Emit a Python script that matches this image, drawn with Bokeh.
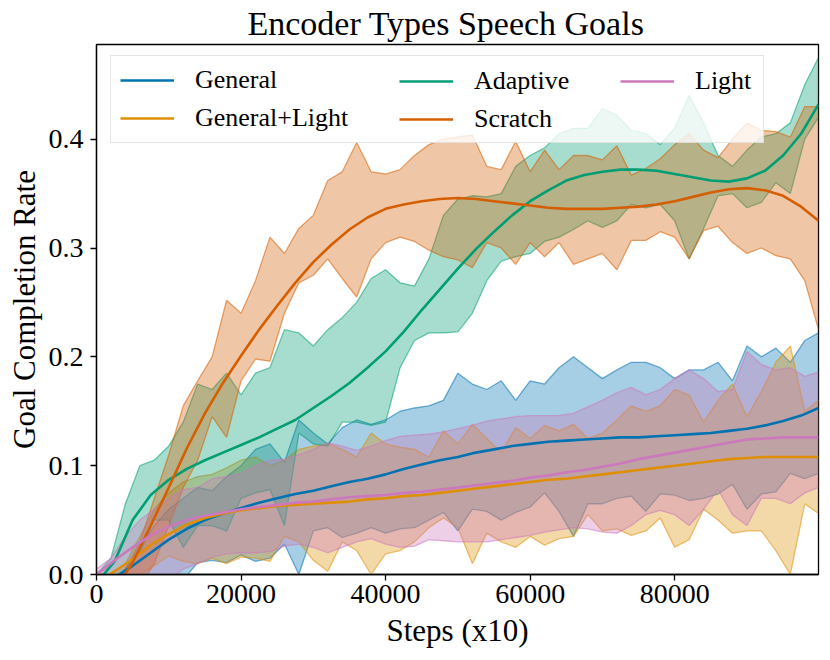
from bokeh.embed import file_html
from bokeh.models import (FixedTicker, Legend, LegendItem, PrintfTickFormatter,
                          Range1d)
from bokeh.plotting import figure
from bokeh.resources import INLINE

FONT = "Liberation Serif"

# --- data -----------------------------------------------------------------
steps = [0, 2000, 4000, 6000, 8000, 10000, 12000, 14000, 16000, 18000,
         20000, 22000, 24000, 26000, 28000, 30000, 32000, 34000, 36000, 38000,
         40000, 42000, 44000, 46000, 48000, 50000, 52000, 54000, 56000, 58000,
         60000, 62000, 64000, 66000, 68000, 70000, 72000, 74000, 76000, 78000,
         80000, 82000, 84000, 86000, 88000, 90000, 92000, 94000, 96000, 98000,
         99900]

mean_steps = [0, 2500, 5000, 7500, 10000, 12500, 15000, 17500, 20000, 22500,
              25000, 27500, 30000, 32500, 35000, 37500, 40000, 42500, 45000, 47500,
              50000, 52500, 55000, 57500, 60000, 62500, 65000, 67500, 70000, 72500,
              75000, 77500, 80000, 82500, 85000, 87500, 90000, 92500, 95000, 97500,
              99900]

general_mean = [-0.015, -0.003, 0.008, 0.02, 0.032, 0.042, 0.05, 0.056, 0.061, 0.066,
                0.07, 0.074, 0.077, 0.081, 0.085, 0.088, 0.092, 0.097, 0.101, 0.105,
                0.108, 0.112, 0.115, 0.118, 0.12, 0.122, 0.123, 0.124, 0.125, 0.126,
                0.126, 0.127, 0.128, 0.129, 0.13, 0.132, 0.134, 0.137, 0.141, 0.146,
                0.153]
general_upper = [-0.01, -0.005, 0.005, 0.025, 0.045, 0.06, 0.07, 0.08, 0.077, 0.09,
                 0.1, 0.115, 0.12, 0.103, 0.142, 0.13, 0.12, 0.135, 0.142, 0.138,
                 0.142, 0.15, 0.153, 0.155, 0.16, 0.185, 0.175, 0.17, 0.178, 0.16,
                 0.178, 0.175, 0.19, 0.2, 0.19, 0.18, 0.188, 0.195, 0.195, 0.19,
                 0.18, 0.188, 0.188, 0.195, 0.178, 0.21, 0.2, 0.208, 0.195, 0.215,
                 0.222]
general_lower = [-0.01, -0.02, -0.03, -0.035, -0.03, -0.02, -0.005, 0.011, 0.013, 0.011,
                 0.018, 0.012, 0.015, 0.028, 0.0, 0.04, 0.043, 0.034, 0.038, 0.043,
                 0.038, 0.042, 0.043, 0.05, 0.057, 0.04, 0.06, 0.058, 0.05, 0.057,
                 0.062, 0.075, 0.058, 0.035, 0.065, 0.065, 0.07, 0.072, 0.058, 0.074,
                 0.073, 0.068, 0.07, 0.074, 0.083, 0.06, 0.074, 0.076, 0.093, 0.088,
                 0.093]

gl_mean = [-0.008, 0.003, 0.014, 0.027, 0.037, 0.046, 0.052, 0.056, 0.059, 0.061,
           0.063, 0.064, 0.065, 0.066, 0.067, 0.069, 0.07, 0.072, 0.073, 0.075,
           0.077, 0.079, 0.081, 0.083, 0.085, 0.087, 0.088, 0.09, 0.092, 0.094,
           0.096, 0.098, 0.1, 0.102, 0.104, 0.106, 0.107, 0.108, 0.108, 0.108,
           0.108]
gl_upper = [-0.005, 0.0, 0.01, 0.035, 0.06, 0.075, 0.085, 0.09, 0.092, 0.098,
            0.105, 0.108, 0.1, 0.105, 0.115, 0.118, 0.12, 0.115, 0.108, 0.13,
            0.12, 0.117, 0.115, 0.108, 0.132, 0.12, 0.138, 0.125, 0.112, 0.135,
            0.125, 0.137, 0.132, 0.138, 0.125, 0.13, 0.142, 0.155, 0.15, 0.155,
            0.17, 0.165, 0.14, 0.16, 0.175, 0.145, 0.168, 0.195, 0.21, 0.15,
            0.16]
gl_lower = [-0.005, -0.01, -0.01, 0.0, 0.008, 0.017, 0.012, 0.01, 0.015, 0.01,
            0.016, 0.015, 0.012, 0.035, 0.03, 0.013, 0.003, 0.03, 0.022, 0.0,
            0.019, 0.022, 0.03, 0.043, 0.052, 0.043, 0.01, 0.038, 0.03, 0.025,
            0.035, 0.027, 0.033, 0.035, 0.055, 0.04, 0.042, 0.036, 0.04, 0.052,
            0.025, 0.032, 0.06, 0.05, 0.038, 0.04, 0.04, 0.022, 0.0, 0.065,
            0.056]

adaptive_mean = [-0.008, 0.012, 0.05, 0.073, 0.087, 0.097, 0.105, 0.112, 0.119, 0.126,
                 0.134, 0.142, 0.153, 0.164, 0.176, 0.19, 0.205, 0.223, 0.243, 0.262,
                 0.281, 0.299, 0.315, 0.33, 0.343, 0.353, 0.362, 0.367, 0.37, 0.372,
                 0.372, 0.371, 0.368, 0.365, 0.362, 0.361, 0.364, 0.371, 0.385, 0.405,
                 0.432]
adaptive_upper = [0.0, 0.015, 0.065, 0.1, 0.105, 0.118, 0.14, 0.175, 0.17, 0.185,
                  0.165, 0.185, 0.19, 0.225, 0.222, 0.21, 0.225, 0.236, 0.25, 0.272,
                  0.28, 0.268, 0.265, 0.29, 0.33, 0.345, 0.348, 0.347, 0.35, 0.375,
                  0.385, 0.392, 0.405, 0.41, 0.41, 0.428, 0.422, 0.408, 0.405, 0.395,
                  0.41, 0.44, 0.415, 0.385, 0.375, 0.39, 0.402, 0.405, 0.415, 0.45,
                  0.475]
adaptive_lower = [-0.01, -0.005, 0.005, 0.02, 0.05, 0.05, 0.025, 0.045, 0.045, 0.04,
                  0.07, 0.075, 0.078, 0.045, 0.13, 0.12, 0.118, 0.14, 0.14, 0.137,
                  0.14, 0.19, 0.215, 0.222, 0.222, 0.223, 0.24, 0.27, 0.288, 0.292,
                  0.295, 0.306, 0.31, 0.317, 0.325, 0.319, 0.325, 0.34, 0.337, 0.34,
                  0.325, 0.29, 0.318, 0.348, 0.35, 0.337, 0.342, 0.36, 0.35, 0.4,
                  0.42]

scratch_mean = [-0.07, -0.015, 0.011, 0.045, 0.08, 0.116, 0.148, 0.176, 0.201, 0.225,
                0.247, 0.268, 0.287, 0.303, 0.317, 0.328, 0.336, 0.34, 0.343, 0.345,
                0.346, 0.345, 0.343, 0.341, 0.339, 0.337, 0.336, 0.336, 0.336, 0.337,
                0.338, 0.34, 0.343, 0.347, 0.351, 0.354, 0.355, 0.353, 0.348, 0.338,
                0.325]
scratch_upper = [-0.02, -0.01, 0.005, 0.03, 0.07, 0.11, 0.155, 0.178, 0.2, 0.252,
                 0.24, 0.27, 0.31, 0.295, 0.318, 0.33, 0.362, 0.37, 0.397, 0.37,
                 0.368, 0.372, 0.385, 0.395, 0.4, 0.402, 0.404, 0.375, 0.372, 0.398,
                 0.37, 0.39, 0.372, 0.385, 0.385, 0.381, 0.394, 0.367, 0.373, 0.382,
                 0.395, 0.405, 0.39, 0.383, 0.4, 0.415, 0.408, 0.407, 0.402, 0.43,
                 0.43]
scratch_lower = [-0.03, -0.03, -0.02, -0.01, 0.01, 0.045, 0.08, 0.105, 0.145, 0.126,
                 0.178, 0.198, 0.196, 0.24, 0.268, 0.275, 0.29, 0.272, 0.255, 0.29,
                 0.305, 0.31, 0.306, 0.298, 0.292, 0.289, 0.282, 0.305, 0.3, 0.285,
                 0.305, 0.292, 0.305, 0.285, 0.29, 0.295, 0.28, 0.307, 0.307, 0.315,
                 0.31, 0.29, 0.316, 0.32, 0.305, 0.295, 0.3, 0.293, 0.29, 0.27,
                 0.225]

light_mean = [0.0, 0.013, 0.025, 0.036, 0.044, 0.05, 0.054, 0.057, 0.06, 0.062,
              0.064, 0.066, 0.067, 0.069, 0.071, 0.072, 0.073, 0.075, 0.076, 0.078,
              0.08, 0.082, 0.084, 0.086, 0.089, 0.091, 0.094, 0.096, 0.099, 0.102,
              0.106, 0.109, 0.112, 0.115, 0.118, 0.121, 0.124, 0.125, 0.126, 0.126,
              0.126]
light_upper = [0.005, 0.015, 0.035, 0.05, 0.06, 0.07, 0.078, 0.08, 0.088, 0.09,
               0.093, 0.1, 0.105, 0.106, 0.11, 0.115, 0.121, 0.118, 0.114, 0.118,
               0.123, 0.127, 0.128, 0.129, 0.131, 0.134, 0.137, 0.141, 0.143, 0.145,
               0.146, 0.146, 0.146, 0.148, 0.154, 0.16, 0.167, 0.172, 0.165, 0.17,
               0.18, 0.188, 0.18, 0.168, 0.17, 0.205, 0.193, 0.188, 0.19, 0.182,
               0.186]
light_lower = [0.0, -0.005, -0.01, -0.01, -0.01, -0.005, 0.005, 0.01, 0.016, 0.019,
               0.02, 0.02, 0.021, 0.026, 0.028, 0.025, 0.02, 0.025, 0.03, 0.033,
               0.028, 0.025, 0.026, 0.032, 0.031, 0.03, 0.03, 0.03, 0.032, 0.034,
               0.036, 0.039, 0.041, 0.043, 0.042, 0.039, 0.038, 0.045, 0.055, 0.059,
               0.055, 0.045, 0.06, 0.078, 0.055, 0.045, 0.07, 0.07, 0.065, 0.075,
               0.08]

labels = ["General", "General+Light", "Adaptive", "Scratch", "Light"]
colors = ["#0173B2", "#DE8F05", "#029E73", "#D55E00", "#CC78BC"]
x_ticks = [0, 20000, 40000, 60000, 80000]
y_ticks = [0.0, 0.1, 0.2, 0.3, 0.4]

series = [
    (general_mean, general_upper, general_lower),
    (gl_mean, gl_upper, gl_lower),
    (adaptive_mean, adaptive_upper, adaptive_lower),
    (scratch_mean, scratch_upper, scratch_lower),
    (light_mean, light_upper, light_lower),
]

# --- figure ---------------------------------------------------------------
p = figure(width=824, height=652,
           x_range=Range1d(0, 99900), y_range=Range1d(0, 0.487),
           output_backend="svg", toolbar_location=None,
           min_border_left=96, min_border_right=6,
           min_border_top=44, min_border_bottom=78,
           background_fill_color="white", border_fill_color="white")

p.title.text = "Encoder Types Speech Goals"
p.title.align = "left"
p.title.offset = 151
p.title.text_font = FONT
p.title.text_font_size = "34px"
p.title.text_font_style = "normal"
p.title.text_color = "black"
p.title.text_line_height = 1.0
p.title.standoff = 5

p.grid.visible = False
p.outline_line_color = "black"
p.outline_line_width = 1.3
p.outline_line_alpha = 1

for ax in (p.xaxis, p.yaxis):
    ax.axis_line_color = "black"
    ax.axis_line_width = 1.3
    ax.major_tick_line_color = "black"
    ax.major_tick_line_width = 1.3
    ax.major_tick_in = 0
    ax.major_tick_out = 6
    ax.minor_tick_line_color = None
    ax.major_label_text_font = FONT
    ax.major_label_text_font_size = "28px"
    ax.major_label_text_color = "black"
    ax.major_label_text_line_height = 1.0
    ax.axis_label_text_font = FONT
    ax.axis_label_text_font_size = "31px"
    ax.axis_label_text_font_style = "normal"
    ax.axis_label_text_color = "black"
    ax.axis_label_text_line_height = 1.0

p.xaxis.ticker = FixedTicker(ticks=x_ticks)
p.xaxis.formatter.use_scientific = False
p.xaxis.axis_label = "Steps (x10)"
p.xaxis.major_label_standoff = 4
p.xaxis.axis_label_standoff = 7

p.yaxis.ticker = FixedTicker(ticks=y_ticks)
p.yaxis.formatter = PrintfTickFormatter(format="%.1f")
p.yaxis.axis_label = "Goal Completion Rate"
p.yaxis.major_label_standoff = 7
p.yaxis.axis_label_standoff = 4

# shaded bands first, then the mean curves on top
for (mean, upper, lower), color in zip(series, colors):
    p.varea(x=steps, y1=lower, y2=upper, fill_color=color, fill_alpha=0.35)
    p.line(steps, upper, line_color=color, line_alpha=0.55, line_width=1.3)
    p.line(steps, lower, line_color=color, line_alpha=0.55, line_width=1.3)

mean_lines = []
for (mean, upper, lower), color in zip(series, colors):
    mean_lines.append(p.line(mean_steps, mean, line_color=color, line_width=2.6))


# legend: three columns, the first one carries the shared box
def make_legend(idx, loc, boxed):
    leg = Legend(
        items=[LegendItem(label=labels[i], renderers=[mean_lines[i]]) for i in idx],
        location=loc, orientation="vertical", margin=0, padding=9, spacing=8,
        glyph_width=54, glyph_height=30, label_height=30, label_standoff=21,
        label_text_font=FONT, label_text_font_size="26px",
        label_text_color="black",
        background_fill_color="white",
        background_fill_alpha=0.8 if boxed else 0,
        border_line_color="#cccccc" if boxed else None,
        border_line_width=1,
    )
    if boxed:
        leg.label_width = 559
    p.add_layout(leg, "center")


make_legend([0, 1], (14, 431), True)
make_legend([2, 3], (303, 440), False)
make_legend([4], (524, 478), False)

open("out.html", "w").write(file_html(p, INLINE))
